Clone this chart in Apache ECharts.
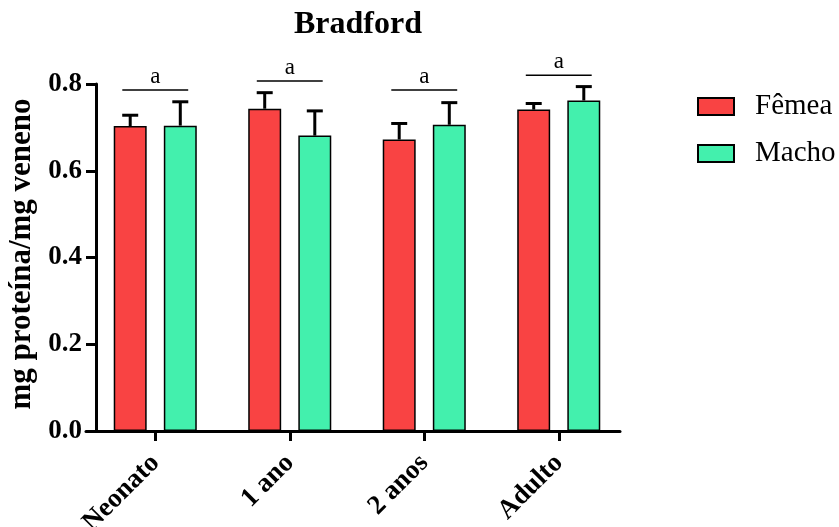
<!DOCTYPE html>
<html><head><meta charset="utf-8">
<script src="https://cdn.jsdelivr.net/npm/echarts@6/dist/echarts.min.js"></script>
<style>html,body{margin:0;padding:0;background:#fff}#c{width:839px;height:527px}</style>
</head><body><div id="c"></div>
<script>
const categories = ['Neonato', '1 ano', '2 anos', 'Adulto'];
const seriesNames = ['Fêmea', 'Macho'];
const femea = [0.703, 0.743, 0.672, 0.741];
const femeaErr = [0.025, 0.037, 0.037, 0.014];
const macho = [0.704, 0.681, 0.706, 0.762];
const machoErr = [0.055, 0.057, 0.051, 0.032];
const sigY = [0.786, 0.807, 0.786, 0.820];
const sigLabels = ['a', 'a', 'a', 'a'];
const yTicks = [0.0, 0.2, 0.4, 0.6, 0.8];

const FONT = "'Times New Roman','Liberation Serif',serif";
const BAR_W = 0.245, BAR_GAP = 0.52;
const colors = ['#f94343', '#43f0ad'];

const errData = [];
femea.forEach((v, i) => errData.push([i, v, femeaErr[i], 0]));
macho.forEach((v, i) => errData.push([i, v, machoErr[i], 1]));
const sigData = sigY.map((y, i) => [i, y]);

const chart = echarts.init(document.getElementById('c'), null, {renderer: 'canvas'});
chart.setOption({
  animation: false,
  backgroundColor: '#fff',
  title: {
    text: 'Bradford', left: 358, top: 9, padding: 0, textAlign: 'center',
    textStyle: {fontFamily: FONT, fontWeight: 'bold', fontSize: 32, color: '#000'}
  },
  legend: {
    orient: 'vertical', left: 697, top: 92, padding: 0, itemWidth: 36, itemHeight: 17, itemGap: 18,
    icon: 'rect', data: seriesNames,
    textStyle: {fontFamily: FONT, fontSize: 29, color: '#000', padding: [0, 0, 0, 16]}
  },
  grid: [
    {left: 88, right: 213, top: 84, bottom: 96, containLabel: false, outerBoundsMode: 'none'},
    {left: 86, right: 219, top: 84, bottom: 96, containLabel: false, outerBoundsMode: 'none'}
  ],
  xAxis: [
    {
      type: 'category', gridIndex: 0, data: categories,
      axisLine: {show: false},
      axisTick: {show: true, alignWithLabel: true, length: 10, lineStyle: {color: '#000', width: 3}},
      axisLabel: {rotate: 45, margin: 28, fontFamily: FONT, fontWeight: 'bold', fontSize: 27, color: '#000', interval: 0},
      splitLine: {show: false}
    },
    {
      type: 'value', gridIndex: 1, min: 0, max: 1,
      axisLine: {show: true, lineStyle: {color: '#000', width: 3}},
      axisTick: {show: false}, axisLabel: {show: false}, splitLine: {show: false}
    }
  ],
  yAxis: [
    {
      type: 'value', gridIndex: 0, min: yTicks[0], max: yTicks[yTicks.length - 1], interval: 0.2, offset: -8,
      axisLine: {show: true, lineStyle: {color: '#000', width: 3}},
      axisTick: {show: true, length: 10, lineStyle: {color: '#000', width: 3}},
      axisLabel: {margin: 14, fontFamily: FONT, fontWeight: 'bold', fontSize: 27, color: '#000',
        formatter: v => v.toFixed(1)},
      splitLine: {show: false},
      name: 'mg proteína/mg veneno', nameLocation: 'middle', nameGap: 54,
      nameTextStyle: {fontFamily: FONT, fontWeight: 'bold', fontSize: 31, color: '#000', padding: [0, 0, 0, 7]}
    },
    {type: 'value', gridIndex: 1, min: 0, max: 1, show: false}
  ],
  series: [
    {
      name: seriesNames[0], type: 'bar', xAxisIndex: 0, yAxisIndex: 0, data: femea,
      barWidth: (BAR_W * 100) + '%', barGap: (BAR_GAP * 100) + '%',
      itemStyle: {color: colors[0], borderColor: '#000', borderWidth: 1.5}
    },
    {
      name: seriesNames[1], type: 'bar', xAxisIndex: 0, yAxisIndex: 0, data: macho,
      barWidth: (BAR_W * 100) + '%', barGap: (BAR_GAP * 100) + '%',
      itemStyle: {color: colors[1], borderColor: '#000', borderWidth: 1.5}
    },
    {
      type: 'custom', xAxisIndex: 0, yAxisIndex: 0, data: errData, z: 5, clip: false,
      renderItem: (params, api) => {
        const idx = api.value(0), v = api.value(1), e = api.value(2), s = api.value(3);
        const band = api.size([1, 0])[0];
        const bw = band * BAR_W;
        const off = (bw + bw * BAR_GAP) / 2 * (s === 0 ? -1 : 1);
        const p = api.coord([idx, v]);
        const q = api.coord([idx, v + e]);
        const x = p[0] + off;
        return {type: 'group', children: [
          {type: 'line', shape: {x1: x, y1: p[1], x2: x, y2: q[1]}, style: {stroke: '#000', lineWidth: 3}},
          {type: 'line', shape: {x1: x - 8, y1: q[1], x2: x + 8, y2: q[1]}, style: {stroke: '#000', lineWidth: 3}}
        ]};
      }
    },
    {
      type: 'custom', xAxisIndex: 0, yAxisIndex: 0, data: sigData, z: 5, clip: false,
      renderItem: (params, api) => {
        const idx = api.value(0), y = api.value(1);
        const band = api.size([1, 0])[0];
        const half = band * BAR_W;
        const p = api.coord([idx, y]);
        return {type: 'group', children: [
          {type: 'line', shape: {x1: p[0] - half, y1: p[1], x2: p[0] + half, y2: p[1]}, style: {stroke: '#000', lineWidth: 1.5}},
          {type: 'text', x: p[0], y: p[1] - 2, style: {text: sigLabels[params.dataIndex], font: '23px ' + FONT, fill: '#000', align: 'center', verticalAlign: 'bottom'}}
        ]};
      }
    }
  ]
});
</script>
</body></html>
